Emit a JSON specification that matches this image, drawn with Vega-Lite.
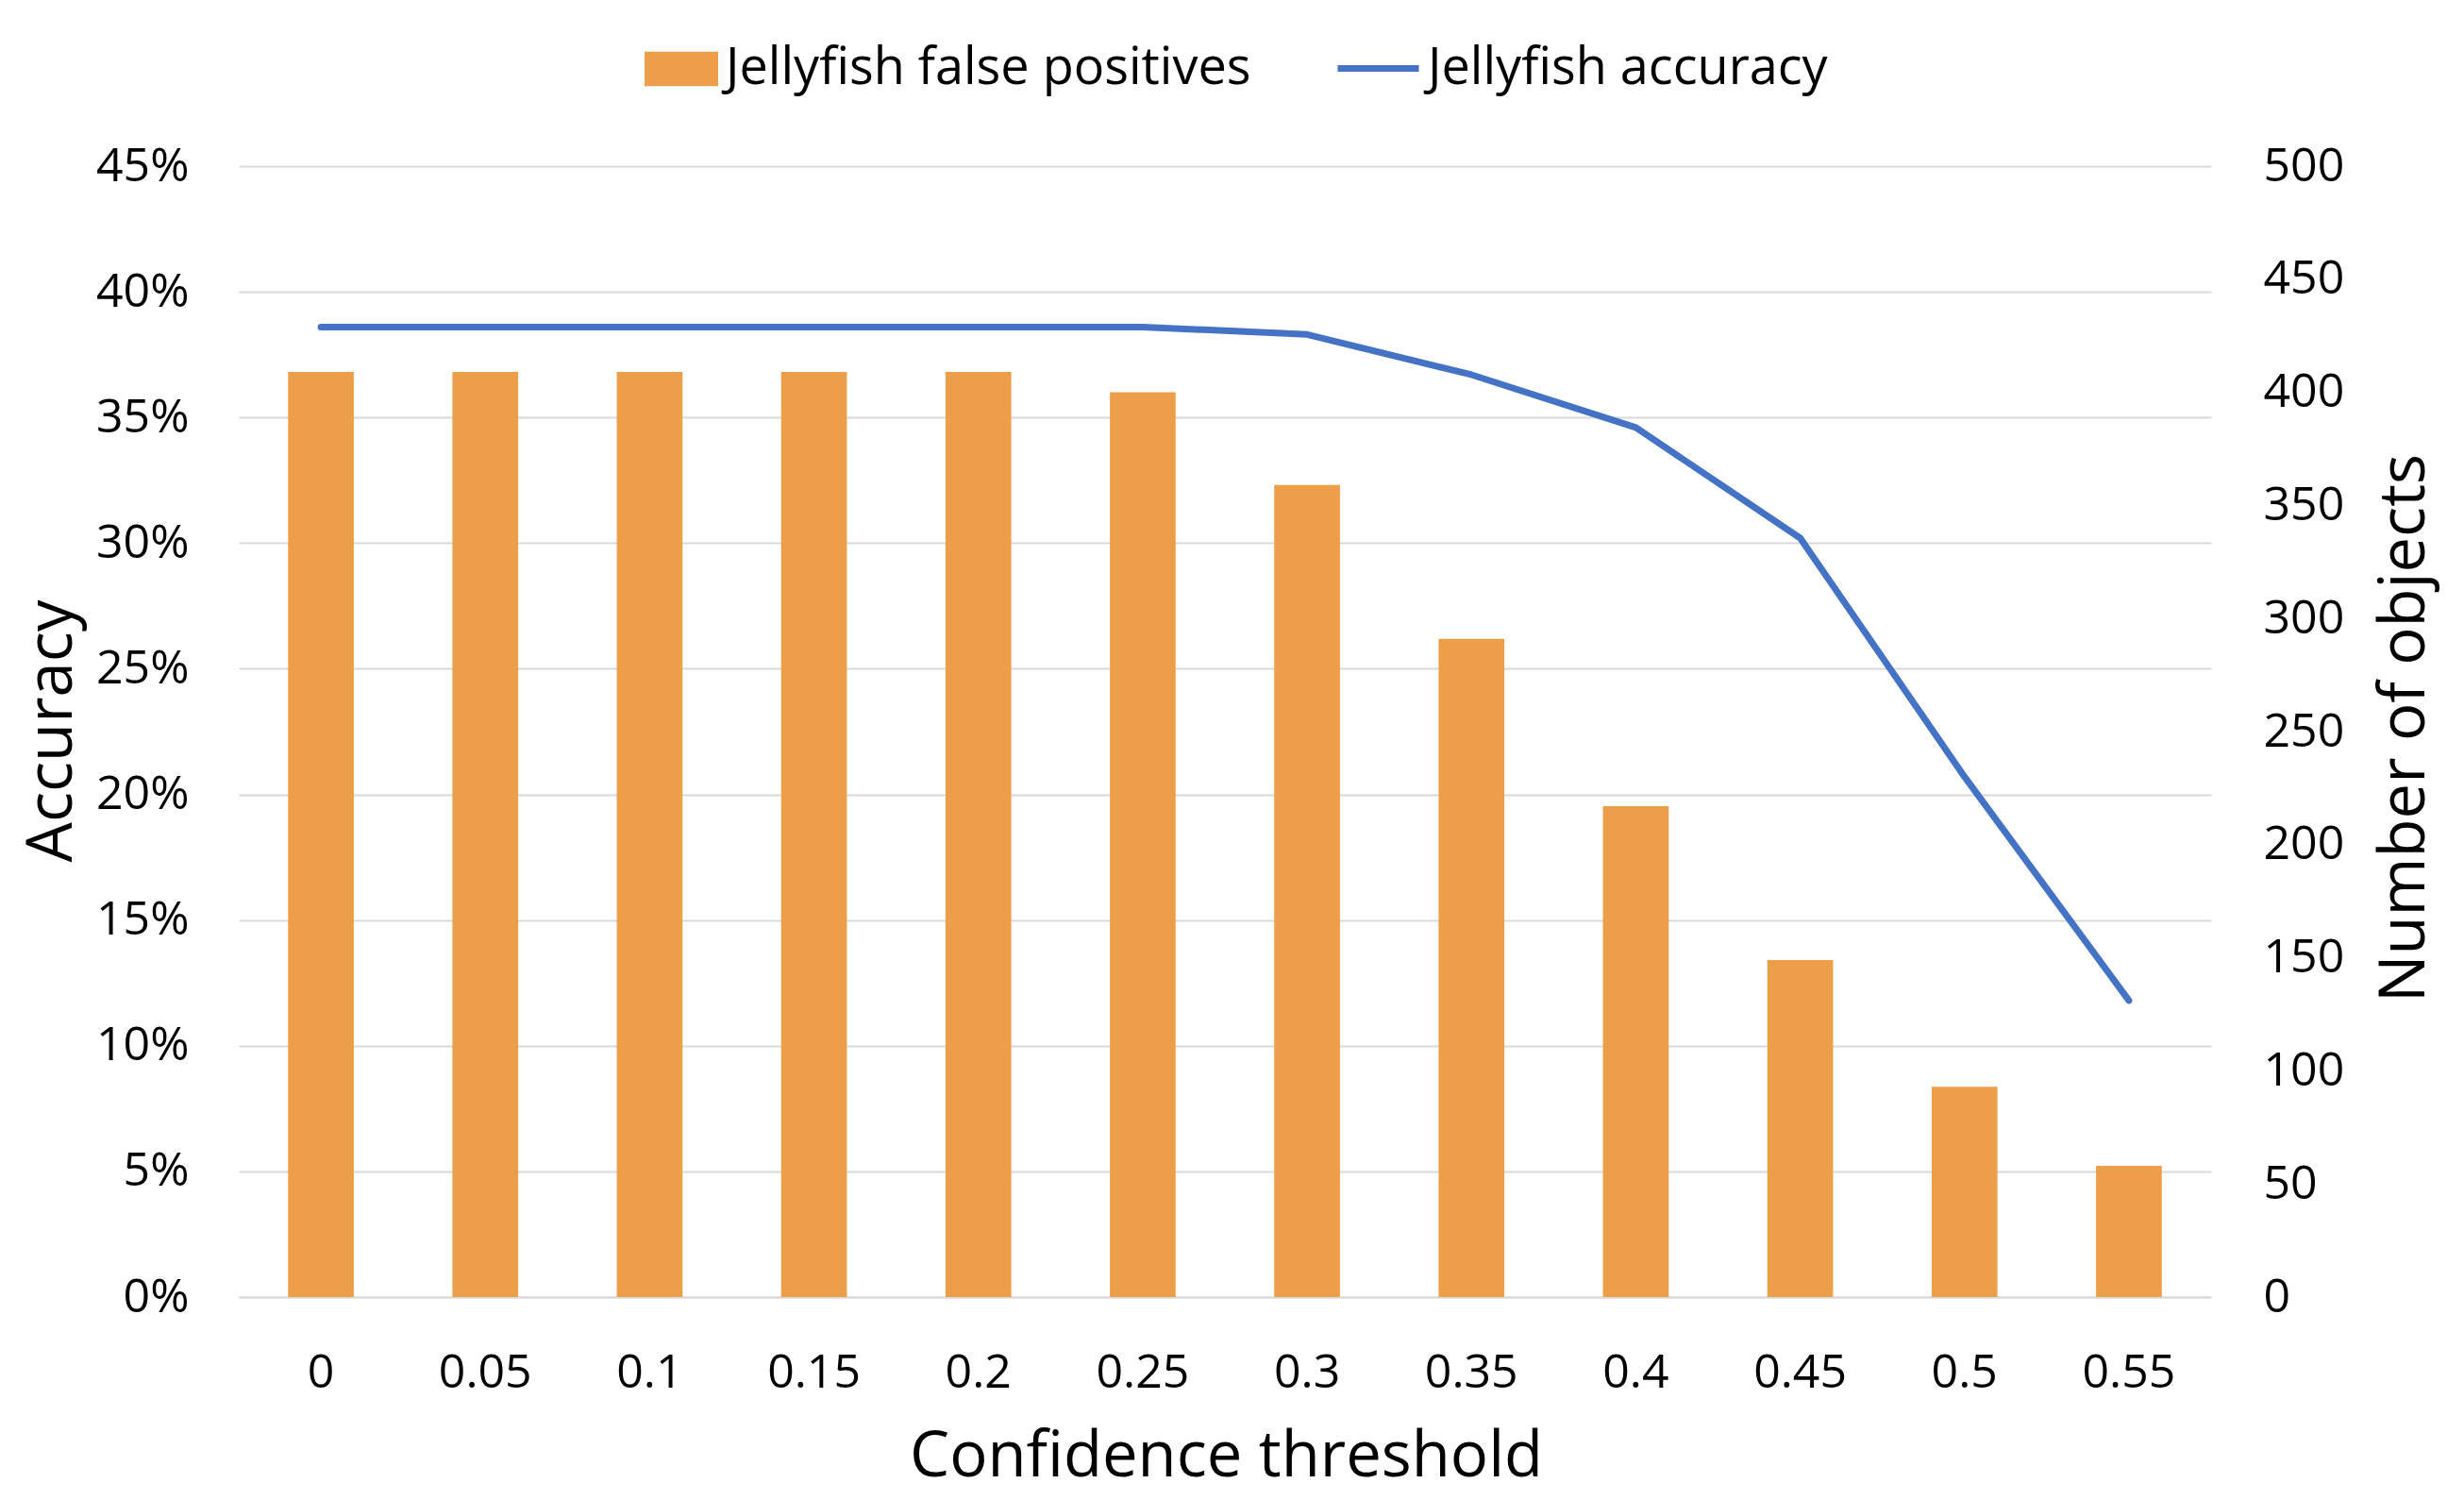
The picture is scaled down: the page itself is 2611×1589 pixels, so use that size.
{
  "$schema": "https://vega.github.io/schema/vega-lite/v6.json",
  "autosize": {"type": "none"},
  "width": 2090,
  "height": 1198,
  "padding": {"left": 253, "top": 176, "right": 268, "bottom": 215},
  "background": "white",
  "config": {
    "font": "Open Sans",
    "view": {"stroke": null},
    "axis": {"labelFont": "Open Sans", "titleFont": "Open Sans", "labelColor": "#000000", "titleColor": "#000000", "titleFontWeight": "normal", "ticks": false, "tickSize": 0}
  },
  "data": {
    "values": [
      {"t": "0", "fp": 409, "acc": 0.386},
      {"t": "0.05", "fp": 409, "acc": 0.386},
      {"t": "0.1", "fp": 409, "acc": 0.386},
      {"t": "0.15", "fp": 409, "acc": 0.386},
      {"t": "0.2", "fp": 409, "acc": 0.386},
      {"t": "0.25", "fp": 400, "acc": 0.386},
      {"t": "0.3", "fp": 359, "acc": 0.383},
      {"t": "0.35", "fp": 291, "acc": 0.367},
      {"t": "0.4", "fp": 217, "acc": 0.346},
      {"t": "0.45", "fp": 149, "acc": 0.302},
      {"t": "0.5", "fp": 93, "acc": 0.207},
      {"t": "0.55", "fp": 58, "acc": 0.118}
    ]
  },
  "encoding": {
    "x": {
      "field": "t", "type": "ordinal", "sort": null,
      "scale": {"type": "band", "paddingInner": 0.6, "paddingOuter": 0.3},
      "axis": {
        "title": "Confidence threshold", "labelAngle": 0, "labelFontSize": 50, "labelPadding": 80, "labelBaseline": "middle",
        "titleFontSize": 67, "titleX": 1046, "titleY": 169, "titleBaseline": "middle", "titleAlign": "center",
        "domain": true, "domainColor": "#D9D9D9", "domainWidth": 2, "grid": false
      }
    }
  },
  "layer": [
    {
      "mark": {"type": "bar"},
      "encoding": {
        "y": {
          "field": "fp", "type": "quantitative",
          "scale": {"domain": [0, 500]},
          "axis": {
            "orient": "right", "title": "Number of objects", "values": [0, 50, 100, 150, 200, 250, 300, 350, 400, 450, 500],
            "labelFontSize": 50, "labelPadding": 55, "labelAlign": "left", "grid": false, "domain": false,
            "titleFontSize": 67, "titleAngle": -90, "titleX": 205, "titleY": 595, "titleBaseline": "middle", "titleAlign": "center"
          }
        },
        "fill": {
          "datum": "Jellyfish false positives", "type": "nominal",
          "scale": {"range": ["#ED9E48"]},
          "legend": {
            "title": null, "orient": "none", "legendX": 430, "legendY": -142, "padding": 0,
            "symbolType": "M-1,-0.47H1V0.47H-1Z", "symbolSize": 6084, "symbolStrokeWidth": 0,
            "labelFontSize": 54, "labelFont": "Open Sans", "labelColor": "#000000", "labelOffset": 8, "labelLimit": 1000
          }
        }
      }
    },
    {
      "mark": {"type": "line", "strokeWidth": 7, "strokeCap": "round", "strokeJoin": "round"},
      "encoding": {
        "y": {
          "field": "acc", "type": "quantitative",
          "scale": {"domain": [0, 0.45]},
          "axis": {
            "orient": "left", "title": "Accuracy", "values": [0, 0.05, 0.1, 0.15, 0.2, 0.25, 0.3, 0.35, 0.4, 0.45], "format": ".0%",
            "labelFontSize": 50, "labelPadding": 53, "grid": true, "gridColor": "#D9D9D9", "gridWidth": 2, "domain": false,
            "titleFontSize": 67, "titleAngle": -90, "titleX": -198, "titleY": 598, "titleBaseline": "middle", "titleAlign": "center"
          }
        },
        "stroke": {
          "datum": "Jellyfish accuracy", "type": "nominal",
          "scale": {"range": ["#4472C4"]},
          "legend": {
            "title": null, "orient": "none", "legendX": 1161, "legendY": -150, "padding": 0,
            "symbolType": "stroke", "symbolSize": 7396, "symbolStrokeWidth": 7,
            "labelFontSize": 54, "labelFont": "Open Sans", "labelColor": "#000000", "labelOffset": 6, "labelLimit": 1000
          }
        }
      }
    }
  ],
  "resolve": {"scale": {"y": "independent"}}
}
